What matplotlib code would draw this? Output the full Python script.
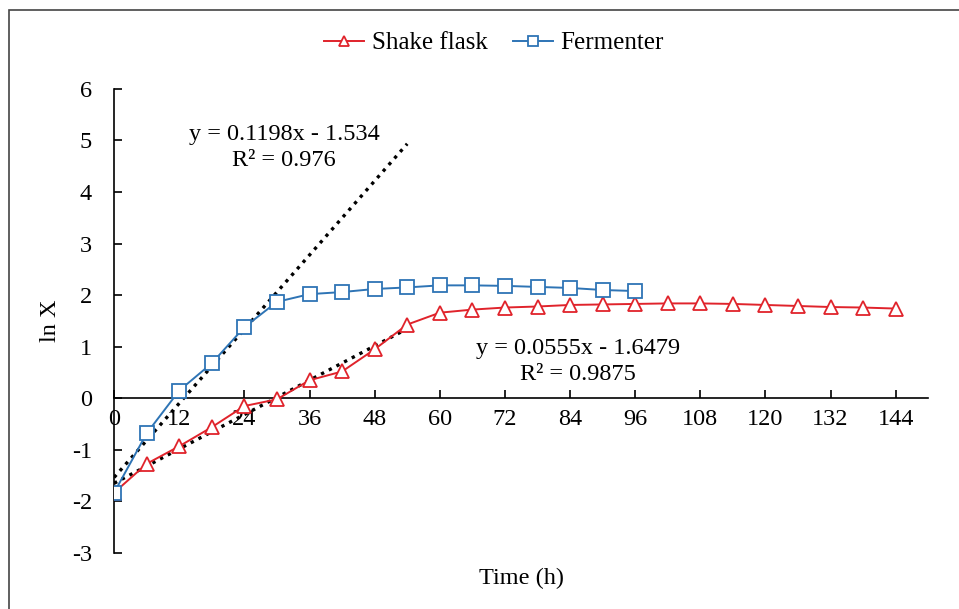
import numpy as np
import matplotlib.pyplot as plt
from matplotlib.patches import Rectangle

plt.rcParams['font.family'] = ['Liberation Serif', 'DejaVu Serif']
plt.rcParams['axes.unicode_minus'] = False

# data
time_shake = [0, 6, 12, 18, 24, 30, 36, 42, 48, 54, 60, 66, 72, 78, 84, 90, 96,
              102, 108, 114, 120, 126, 132, 138, 144]
lnx_shake = [-1.83, -1.27, -0.93, -0.56, -0.15, -0.02, 0.35, 0.52, 0.95, 1.43, 1.66,
             1.72, 1.76, 1.78, 1.81, 1.82, 1.83, 1.84, 1.84, 1.83, 1.81, 1.79, 1.77,
             1.76, 1.74]
time_ferm = [0, 6, 12, 18, 24, 30, 36, 42, 48, 54, 60, 66, 72, 78, 84, 90, 96]
lnx_ferm = [-1.83, -0.68, 0.15, 0.68, 1.38, 1.87, 2.02, 2.06, 2.12, 2.15, 2.19,
            2.19, 2.18, 2.16, 2.14, 2.10, 2.08]

# linear fits (exponential phase)
fit_ferm = (0.1198, -1.534)
fit_shake = (0.0555, -1.6479)
fit_range = [0, 54]
xticks = list(range(0, 145, 12))
yticks = list(range(-3, 7))

fig = plt.figure(figsize=(9.59, 6.09), dpi=100)
ax = fig.add_axes([0.119, 0.092, 0.849, 0.762])

red = '#e0232b'
blue = '#2e74b5'
ax.plot(time_shake, lnx_shake, color=red, lw=1.4, marker='^', ms=10, mfc='white',
        mec=red, mew=1.3, label='Shake flask', zorder=3)
ax.plot(time_ferm, lnx_ferm, color=blue, lw=1.4, marker='s', ms=10, mfc='white',
        mec=blue, mew=1.3, label='Fermenter', zorder=3)

xf = np.array(fit_range)
ax.plot(xf, fit_ferm[0] * xf + fit_ferm[1], ls=(0, (1, 1.6)), color='black', lw=2.4, zorder=2)
ax.plot(xf, fit_shake[0] * xf + fit_shake[1], ls=(0, (1, 1.6)), color='black', lw=2.4, zorder=2)

fs = 17.5
ax.text(31.3, 4.86, 'y = 0.1198x - 1.534\nR² = 0.976', ha='center', va='center',
        fontsize=fs, linespacing=1.3)
ax.text(85.4, 0.71, 'y = 0.0555x - 1.6479\nR² = 0.9875', ha='center', va='center',
        fontsize=fs, linespacing=1.3)

ax.set_xlim(0, 150)
ax.set_ylim(-3, 6)
ax.set_xticks(xticks)
ax.set_yticks(yticks)
ax.spines['top'].set_visible(False)
ax.spines['right'].set_visible(False)
ax.spines['bottom'].set_position(('data', 0))
ax.spines['bottom'].set_linewidth(1.2)
ax.spines['left'].set_linewidth(1.2)
ax.tick_params(axis='x', direction='in', length=6, width=1.2, labelsize=fs, pad=8)
ax.tick_params(axis='y', direction='in', length=6, width=1.2, labelsize=fs, pad=16)

ax.set_ylabel('ln X', fontsize=fs)
ax.yaxis.set_label_coords(-0.065, 0.5)
ax.set_xlabel('Time (h)', fontsize=fs)
ax.xaxis.set_label_coords(0.5, -0.033)

fig.legend(loc='center', bbox_to_anchor=(0.515, 0.929), ncol=2, frameon=False,
           fontsize=18, handlelength=1.6, columnspacing=1.0, handletextpad=0.3,
           markerscale=0.7)

fig.add_artist(Rectangle((0.009, -0.05), 1.2, 1.034, transform=fig.transFigure,
                         fill=False, ec='#444444', lw=1.2))

fig.savefig('out.png', dpi=100)
